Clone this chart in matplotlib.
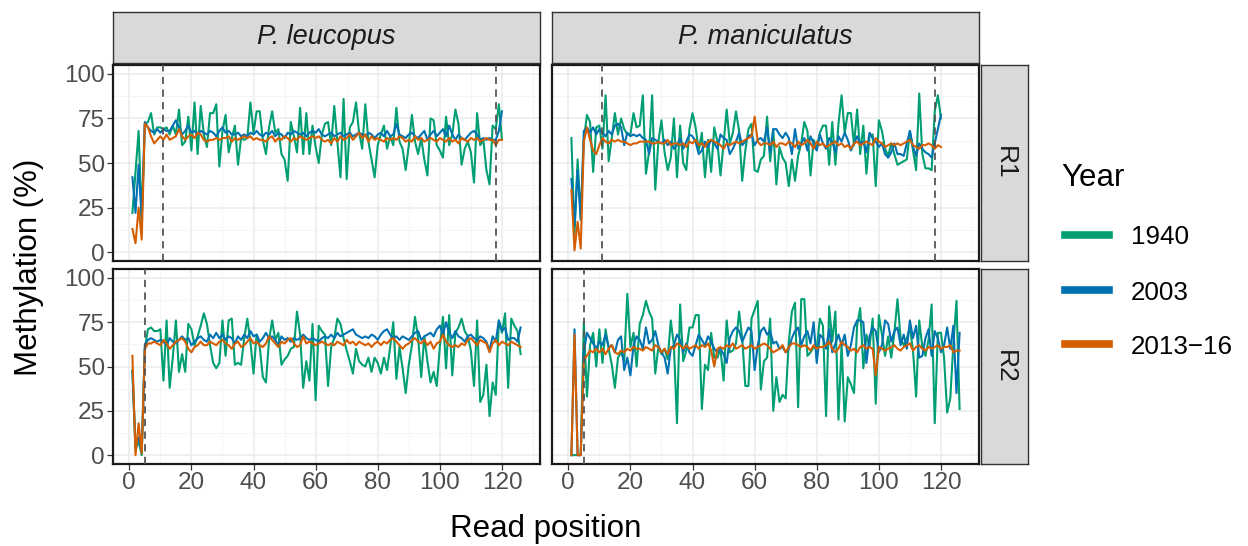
import matplotlib
matplotlib.use("Agg")
import matplotlib.pyplot as plt
from matplotlib.lines import Line2D

plt.rcParams['font.family'] = ['Liberation Sans', 'DejaVu Sans']

species = ['P. leucopus', 'P. maniculatus']
reads = ['R1', 'R2']
years = ['1940', '2003', '2013\u221216']
colors = ['#009E73', '#0072B2', '#D55E00']

# dashed cut positions per read
cuts_r1 = [11, 118]
cuts_r2 = [5]

# ---- R1, P. leucopus (positions 1..120)
r1_leu_1940 = [22, 45, 68, 18, 72, 73, 78, 66, 70, 70, 69, 70, 66, 71, 66, 80, 60, 62, 76, 57,
               84, 55, 82, 66, 59, 78, 78, 83, 48, 68, 77, 56, 64, 71, 49, 64, 63, 64, 84, 67,
               79, 79, 63, 55, 70, 79, 67, 69, 55, 52, 40, 73, 65, 56, 81, 55, 78, 55, 71, 59,
               50, 66, 72, 73, 60, 82, 62, 42, 86, 41, 70, 73, 84, 67, 58, 83, 62, 52, 42, 60,
               66, 71, 58, 65, 60, 81, 62, 58, 46, 60, 77, 62, 55, 64, 52, 43, 75, 74, 60, 57,
               53, 76, 60, 66, 80, 72, 49, 58, 62, 56, 39, 78, 60, 63, 46, 38, 71, 69, 83, 63]
r1_leu_2003 = [42, 22, 49, 18, 73, 70, 68, 67, 69, 67, 69, 68, 68, 71, 74, 70, 66, 68, 71, 67,
               68, 66, 68, 67, 66, 68, 67, 65, 68, 70, 67, 68, 66, 66, 67, 65, 66, 65, 67, 66,
               68, 66, 65, 67, 66, 68, 65, 67, 66, 64, 67, 66, 68, 67, 66, 67, 65, 67, 68, 67,
               69, 66, 65, 66, 67, 65, 66, 67, 65, 66, 67, 65, 66, 67, 66, 65, 67, 66, 64, 66,
               67, 65, 68, 65, 66, 72, 66, 65, 64, 66, 67, 65, 64, 66, 68, 63, 66, 68, 65, 67,
               69, 65, 71, 66, 63, 66, 64, 63, 65, 67, 68, 66, 63, 64, 63, 64, 63, 63, 68, 79]
r1_leu_2013 = [13, 5, 25, 7, 72, 70, 65, 61, 63, 65, 63, 66, 63, 64, 65, 69, 65, 63, 65, 66,
               64, 67, 66, 63, 62, 63, 63, 64, 63, 64, 64, 65, 62, 64, 63, 64, 65, 64, 65, 63,
               64, 63, 63, 62, 64, 65, 62, 64, 63, 65, 64, 62, 64, 63, 65, 64, 63, 64, 65, 64,
               65, 63, 62, 63, 61, 64, 62, 65, 63, 64, 66, 63, 65, 67, 64, 66, 62, 65, 63, 64,
               63, 62, 64, 63, 64, 63, 65, 64, 62, 63, 62, 65, 63, 64, 62, 63, 64, 63, 62, 64,
               63, 62, 64, 62, 63, 61, 64, 63, 62, 64, 63, 64, 62, 63, 64, 63, 63, 60, 63, 63]

# ---- R1, P. maniculatus (positions 1..120)
r1_man_1940 = [64, 10, 52, 19, 63, 77, 73, 45, 70, 71, 58, 88, 51, 64, 78, 66, 75, 69, 66, 66,
               78, 70, 71, 88, 44, 56, 88, 35, 62, 74, 56, 46, 53, 75, 42, 71, 50, 46, 69, 78,
               70, 57, 67, 42, 63, 45, 70, 62, 43, 61, 80, 61, 67, 79, 68, 40, 57, 69, 72, 46,
               45, 52, 54, 76, 51, 69, 38, 59, 53, 50, 37, 52, 40, 54, 61, 73, 68, 43, 63, 58,
               67, 71, 71, 49, 73, 49, 72, 88, 67, 78, 78, 60, 80, 55, 71, 44, 65, 66, 37, 74,
               68, 58, 54, 61, 55, 49, 50, 51, 52, 68, 57, 46, 89, 55, 47, 47, 46, 79, 88, 75]
r1_man_2003 = [41, 15, 46, 18, 68, 70, 67, 70, 66, 69, 67, 65, 68, 66, 71, 72, 70, 60, 67, 65,
               66, 65, 66, 64, 63, 55, 64, 63, 62, 61, 63, 60, 62, 58, 60, 64, 58, 62, 66, 65,
               62, 55, 57, 62, 59, 63, 61, 58, 66, 64, 63, 55, 58, 62, 67, 60, 62, 65, 66, 60,
               63, 64, 62, 70, 56, 69, 69, 66, 64, 67, 64, 55, 69, 58, 61, 64, 57, 65, 61, 57,
               66, 61, 58, 64, 62, 56, 65, 62, 67, 63, 57, 61, 65, 61, 62, 56, 67, 64, 62, 59,
               61, 55, 53, 56, 61, 55, 55, 54, 61, 68, 59, 54, 61, 58, 56, 55, 53, 61, 69, 77]
r1_man_2013 = [35, 1, 17, 2, 62, 70, 63, 57, 55, 60, 64, 62, 61, 63, 62, 63, 62, 62, 61, 60,
               61, 61, 62, 62, 62, 62, 61, 61, 62, 61, 61, 63, 60, 61, 61, 60, 61, 59, 62, 61,
               63, 60, 61, 59, 62, 63, 62, 61, 60, 58, 61, 60, 61, 62, 61, 62, 63, 64, 65, 76,
               62, 60, 61, 61, 60, 62, 59, 61, 61, 60, 62, 61, 59, 62, 60, 61, 63, 61, 58, 62,
               60, 61, 59, 60, 61, 62, 60, 61, 59, 60, 58, 61, 62, 60, 61, 62, 61, 60, 64, 62,
               61, 59, 60, 61, 60, 61, 60, 61, 62, 63, 60, 59, 58, 60, 60, 61, 60, 58, 60, 59]

# ---- R2, P. leucopus (positions 1..126)
r2_leu_1940 = [48, 3, 8, 0, 60, 71, 72, 70, 70, 71, 42, 76, 38, 55, 76, 47, 57, 47, 74, 71,
               62, 67, 73, 80, 74, 62, 52, 49, 52, 76, 56, 76, 77, 51, 52, 51, 66, 77, 64, 46,
               68, 61, 44, 41, 65, 76, 65, 69, 51, 54, 56, 60, 61, 81, 68, 38, 53, 42, 74, 31,
               73, 70, 68, 39, 61, 66, 77, 74, 66, 59, 53, 46, 60, 53, 51, 50, 55, 47, 55, 52,
               46, 55, 48, 61, 75, 43, 61, 49, 35, 51, 62, 78, 66, 44, 67, 53, 41, 47, 39, 61,
               78, 49, 79, 45, 69, 72, 77, 70, 67, 59, 39, 76, 30, 34, 51, 22, 41, 34, 76, 69,
               80, 38, 77, 73, 70, 57]
r2_leu_2003 = [47, 5, 10, 2, 62, 65, 66, 65, 64, 65, 64, 62, 66, 64, 63, 65, 67, 65, 66, 62,
               64, 66, 67, 65, 64, 68, 66, 69, 66, 68, 65, 67, 66, 63, 67, 65, 68, 66, 70, 67,
               68, 64, 66, 69, 66, 67, 65, 62, 67, 65, 66, 64, 66, 65, 66, 68, 66, 65, 66, 65,
               64, 66, 67, 66, 68, 66, 69, 67, 68, 69, 70, 71, 68, 67, 66, 67, 66, 68, 67, 65,
               68, 70, 71, 68, 66, 67, 65, 67, 66, 65, 67, 69, 70, 65, 67, 68, 69, 67, 71, 73,
               68, 75, 69, 66, 70, 67, 66, 64, 67, 68, 66, 65, 67, 66, 64, 59, 67, 64, 76, 70,
               72, 65, 66, 66, 64, 72]
r2_leu_2013 = [56, 0, 18, 1, 60, 63, 63, 64, 63, 62, 65, 63, 60, 62, 64, 65, 66, 64, 60, 58,
               61, 62, 64, 62, 62, 64, 63, 62, 64, 65, 63, 62, 60, 63, 64, 61, 62, 64, 66, 63,
               64, 62, 61, 63, 67, 65, 63, 61, 64, 63, 65, 66, 63, 61, 62, 67, 63, 64, 63, 62,
               63, 64, 63, 62, 63, 62, 64, 63, 62, 65, 63, 64, 62, 64, 63, 62, 63, 61, 63, 64,
               62, 64, 63, 65, 66, 64, 62, 60, 62, 63, 65, 66, 64, 63, 65, 62, 64, 60, 63, 64,
               68, 64, 62, 61, 62, 61, 63, 62, 65, 66, 64, 62, 65, 64, 63, 58, 63, 65, 62, 64,
               63, 62, 64, 63, 62, 61]

# ---- R2, P. maniculatus (positions 1..126)
r2_man_1940 = [0, 0, 0, 0, 75, 33, 62, 69, 50, 71, 52, 71, 60, 51, 38, 55, 58, 53, 91, 61,
               69, 50, 74, 79, 87, 81, 77, 46, 61, 57, 60, 54, 76, 62, 18, 85, 53, 59, 72, 72,
               79, 79, 26, 51, 48, 69, 55, 55, 60, 42, 76, 58, 59, 63, 81, 66, 39, 39, 77, 82,
               87, 37, 53, 55, 77, 25, 44, 30, 34, 32, 64, 81, 86, 27, 88, 88, 56, 58, 61, 60,
               77, 73, 22, 84, 64, 81, 20, 63, 19, 44, 40, 35, 73, 83, 49, 68, 61, 77, 29, 79,
               68, 56, 67, 55, 69, 88, 66, 62, 66, 72, 59, 33, 76, 61, 56, 65, 85, 18, 69, 69,
               55, 24, 32, 63, 87, 26]
r2_man_2003 = [0, 71, 0, 0, 58, 69, 66, 63, 60, 64, 62, 68, 61, 62, 58, 65, 67, 48, 55, 45,
               62, 67, 65, 60, 72, 63, 65, 70, 62, 58, 55, 46, 60, 62, 68, 65, 58, 63, 58, 56,
               62, 68, 65, 62, 67, 64, 60, 58, 60, 57, 52, 66, 70, 72, 70, 64, 68, 72, 70, 48,
               62, 70, 72, 68, 70, 63, 64, 60, 61, 58, 60, 66, 70, 72, 62, 67, 70, 63, 75, 52,
               68, 66, 60, 71, 58, 63, 68, 62, 68, 56, 62, 72, 76, 76, 75, 52, 67, 72, 70, 58,
               62, 76, 74, 64, 70, 72, 62, 68, 60, 76, 66, 73, 55, 56, 66, 71, 56, 70, 66, 58,
               62, 72, 60, 73, 35, 69]
r2_man_2013 = [0, 68, 0, 0, 54, 56, 59, 58, 60, 58, 60, 57, 60, 62, 58, 57, 59, 58, 60, 59,
               61, 60, 60, 59, 61, 60, 59, 62, 61, 58, 60, 57, 61, 60, 63, 62, 60, 62, 60, 61,
               62, 60, 62, 61, 63, 59, 50, 60, 61, 60, 62, 61, 63, 60, 61, 62, 60, 61, 62, 60,
               61, 62, 63, 62, 60, 58, 59, 60, 62, 58, 61, 63, 63, 62, 61, 62, 61, 59, 62, 60,
               61, 61, 62, 64, 60, 58, 60, 64, 62, 61, 59, 60, 58, 61, 62, 60, 61, 60, 45, 61,
               60, 59, 60, 61, 62, 60, 59, 61, 62, 63, 59, 61, 62, 60, 59, 61, 60, 61, 62, 60,
               61, 61, 62, 58, 59, 59]

panels = {
    ('R1', 'P. leucopus'): [r1_leu_1940, r1_leu_2003, r1_leu_2013],
    ('R1', 'P. maniculatus'): [r1_man_1940, r1_man_2003, r1_man_2013],
    ('R2', 'P. leucopus'): [r2_leu_1940, r2_leu_2003, r2_leu_2013],
    ('R2', 'P. maniculatus'): [r2_man_1940, r2_man_2003, r2_man_2013],
}
cuts = {'R1': cuts_r1, 'R2': cuts_r2}

W, H = 1248, 546
fig = plt.figure(figsize=(W / 100, H / 100), dpi=100)

def box(x0, y0, x1, y1):
    # pixel box (top-left origin) -> figure fraction rect
    return [x0 / W, 1 - y1 / H, (x1 - x0) / W, (y1 - y0) / H]

col_x = [(113, 540), (552, 979)]
row_y = [(65, 261), (269, 464)]

for i, rd in enumerate(reads):
    for j, sp in enumerate(species):
        ax = fig.add_axes(box(col_x[j][0], row_y[i][0], col_x[j][1], row_y[i][1]))
        for ys, c in zip(panels[(rd, sp)], colors):
            ax.plot(range(1, len(ys) + 1), ys, color=c, lw=1.5, zorder=3)
        for cx in cuts[rd]:
            ax.axvline(cx, color='#555555', lw=1.3, ls=(0, (4, 3)), zorder=4)
        ax.set_xlim(-5.25, 132.25)
        ax.set_ylim(-5, 105)
        ax.set_xticks(range(0, 121, 20))
        ax.set_xticks(range(10, 131, 20), minor=True)
        ax.set_yticks([0, 25, 50, 75, 100])
        ax.set_yticks([12.5, 37.5, 62.5, 87.5], minor=True)
        ax.grid(which='major', color='#EBEBEB', lw=1.1, zorder=0)
        ax.grid(which='minor', color='#F4F4F4', lw=0.6, zorder=0)
        ax.set_axisbelow(True)
        for s in ax.spines.values():
            s.set_color('#1a1a1a')
            s.set_linewidth(1.6)
        ax.tick_params(which='minor', length=0)
        ax.tick_params(which='major', length=4.5, width=0.9, color='#333333',
                       labelsize=17.5, labelcolor='#4D4D4D', pad=1.5)
        if j > 0:
            ax.tick_params(axis='y', left=False, labelleft=False)
        if i == 0:
            ax.tick_params(axis='x', bottom=False, labelbottom=False)

# strips
for j, sp in enumerate(species):
    sax = fig.add_axes(box(col_x[j][0], 12, col_x[j][1], 63))
    sax.set_facecolor('#D9D9D9')
    sax.set_xticks([]); sax.set_yticks([])
    for s in sax.spines.values():
        s.set_color('#333333'); s.set_linewidth(1.0)
    sax.text(0.5, 0.5, sp, style='italic', fontsize=19.5, color='#1A1A1A',
             ha='center', va='center', transform=sax.transAxes)
for i, rd in enumerate(reads):
    sax = fig.add_axes(box(981, row_y[i][0], 1028, row_y[i][1]))
    sax.set_facecolor('#D9D9D9')
    sax.set_xticks([]); sax.set_yticks([])
    for s in sax.spines.values():
        s.set_color('#333333'); s.set_linewidth(1.0)
    sax.text(0.5, 0.5, rd, rotation=270, fontsize=19, color='#1A1A1A',
             ha='center', va='center', transform=sax.transAxes)

fig.text(29 / W, 1 - 267 / H, 'Methylation (%)', rotation=90, fontsize=22.5,
         ha='center', va='center')
fig.text(546 / W, 1 - 537 / H, 'Read position', fontsize=22.5,
         ha='center', va='baseline')

# legend drawn by hand
fig.text(1061 / W, 1 - 186 / H, 'Year', fontsize=22.5, ha='left', va='baseline')
for k, (lab, c) in enumerate(zip(years, colors)):
    yk = 1 - [235, 290, 344][k] / H
    fig.add_artist(Line2D([1065 / W, 1109 / W], [yk, yk], color=c, lw=5.5,
                          transform=fig.transFigure))
    fig.text(1131 / W, yk, lab, fontsize=18.7, ha='left', va='center_baseline')

fig.savefig('out.png', dpi=100)
